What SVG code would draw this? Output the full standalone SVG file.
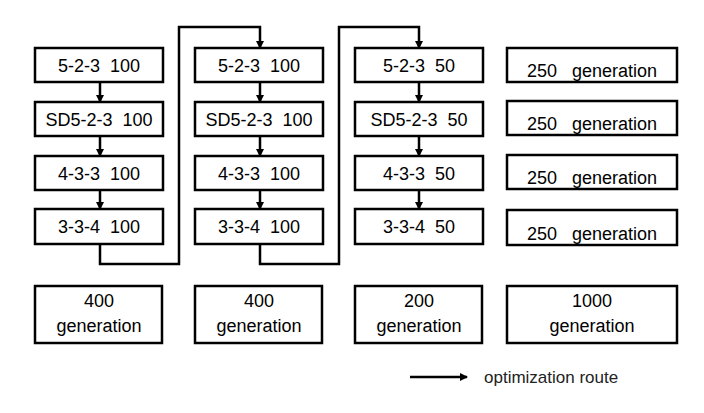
<svg xmlns="http://www.w3.org/2000/svg" width="704" height="413" viewBox="0 0 704 413">
<defs>
<style>
rect{fill:#fff;stroke:#000;stroke-width:2.5}
text{font-family:"Liberation Sans",Arial,sans-serif;font-size:18px;fill:#000;text-anchor:middle;white-space:pre}
.c path{fill:none;stroke:#000;stroke-width:2.5}
</style>
<marker id="a" markerWidth="8" markerHeight="8" refX="7" refY="4" orient="auto" markerUnits="userSpaceOnUse"><path d="M0,0 L8,4 L0,8 z" fill="#000"/></marker>
</defs>
<rect x="0" y="0" width="704" height="413" style="fill:#fff;stroke:none"/>
<g id="c1r1"><rect x="35" y="48" width="128" height="34"/><text x="99" y="72" xml:space="preserve">5-2-3  100</text></g>
<g id="c1r2"><rect x="35" y="102" width="128" height="34"/><text x="99" y="126" xml:space="preserve">SD5-2-3  100</text></g>
<g id="c1r3"><rect x="35" y="156" width="128" height="34"/><text x="99" y="180" xml:space="preserve">4-3-3  100</text></g>
<g id="c1r4"><rect x="35" y="209" width="128" height="35"/><text x="99" y="233" xml:space="preserve">3-3-4  100</text></g>
<g id="c2r1"><rect x="195" y="48" width="128" height="34"/><text x="259" y="72" xml:space="preserve">5-2-3  100</text></g>
<g id="c2r2"><rect x="195" y="102" width="128" height="34"/><text x="259" y="126" xml:space="preserve">SD5-2-3  100</text></g>
<g id="c2r3"><rect x="195" y="156" width="128" height="34"/><text x="259" y="180" xml:space="preserve">4-3-3  100</text></g>
<g id="c2r4"><rect x="195" y="209" width="128" height="35"/><text x="259" y="233" xml:space="preserve">3-3-4  100</text></g>
<g id="c3r1"><rect x="355" y="48" width="128" height="34"/><text x="419" y="72" xml:space="preserve">5-2-3  50</text></g>
<g id="c3r2"><rect x="355" y="102" width="128" height="34"/><text x="419" y="126" xml:space="preserve">SD5-2-3  50</text></g>
<g id="c3r3"><rect x="355" y="156" width="128" height="34"/><text x="419" y="180" xml:space="preserve">4-3-3  50</text></g>
<g id="c3r4"><rect x="355" y="209" width="128" height="35"/><text x="419" y="233" xml:space="preserve">3-3-4  50</text></g>
<g id="c4r1"><rect x="507" y="48" width="170" height="34"/><text x="592" y="77" xml:space="preserve">250   generation</text></g>
<g id="c4r2"><rect x="507" y="101" width="170" height="34"/><text x="592" y="130" xml:space="preserve">250   generation</text></g>
<g id="c4r3"><rect x="507" y="155" width="170" height="34"/><text x="592" y="184" xml:space="preserve">250   generation</text></g>
<g id="c4r4"><rect x="507" y="210" width="170" height="35"/><text x="592" y="240" xml:space="preserve">250   generation</text></g>
<g id="b1"><rect x="35" y="286" width="127" height="57"/><text x="99" y="307">400</text><text x="99" y="332">generation</text></g>
<g id="b2"><rect x="195" y="286" width="127" height="57"/><text x="259" y="307">400</text><text x="259" y="332">generation</text></g>
<g id="b3"><rect x="355" y="286" width="127" height="57"/><text x="419" y="307">200</text><text x="419" y="332">generation</text></g>
<g id="b4"><rect x="507" y="286" width="170" height="57"/><text x="592" y="307">1000</text><text x="592" y="332">generation</text></g>
<g id="legend"><path d="M410,377 H467" style="stroke:#000;stroke-width:2.5" marker-end="url(#a)"/><text x="484" y="383" style="text-anchor:start;font-size:17px;fill:#222">optimization route</text></g>
<g class="c" id="connectors">
<path d="M100,82 V102" marker-end="url(#a)"/>
<path d="M100,136 V156" marker-end="url(#a)"/>
<path d="M100,190 V209" marker-end="url(#a)"/>
<path d="M260,82 V102" marker-end="url(#a)"/>
<path d="M260,136 V156" marker-end="url(#a)"/>
<path d="M260,190 V209" marker-end="url(#a)"/>
<path d="M419,82 V102" marker-end="url(#a)"/>
<path d="M419,136 V156" marker-end="url(#a)"/>
<path d="M419,190 V209" marker-end="url(#a)"/>
<path d="M100,244 V264 H179 V27 H260 V48" marker-end="url(#a)"/>
<path d="M260,244 V264 H339 V27 H419 V48" marker-end="url(#a)"/>
</g>
</svg>
